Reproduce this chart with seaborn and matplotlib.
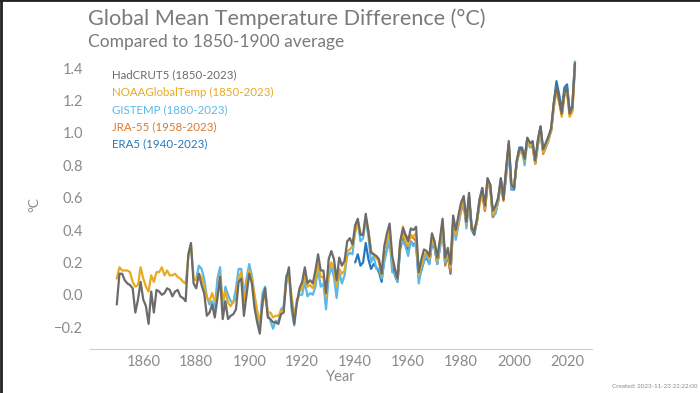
import numpy as np
import pandas as pd
import seaborn as sns
import matplotlib.pyplot as plt
from matplotlib.lines import Line2D

# %% data: annual anomalies vs 1850-1900 (deg C)
hadcrut5 = [-0.06, 0.13, 0.13, 0.09, 0.07, 0.06, 0.04, -0.11, -0.03, 0.08,
            -0.03, -0.07, -0.18, 0.02, -0.11, 0.03, 0.02, 0.00, 0.01, 0.04,
            0.03, -0.01, 0.02, 0.03, -0.01, -0.02, -0.04, 0.25, 0.32, 0.07,
            0.04, 0.13, 0.06, 0.01, -0.13, -0.11, -0.06, -0.14, -0.02, 0.11,
            -0.15, -0.04, -0.15, -0.13, -0.12, -0.09, 0.08, 0.10, -0.13, 0.00,
            0.13, 0.07, -0.08, -0.17, -0.24, -0.05, 0.04, -0.14, -0.15, -0.17,
            -0.17, -0.18, -0.12, -0.11, 0.10, 0.17, -0.06, -0.18, -0.05, 0.04,
            0.08, 0.17, 0.07, 0.09, 0.07, 0.15, 0.25, 0.15, 0.15, 0.01,
            0.22, 0.27, 0.22, 0.09, 0.23, 0.18, 0.21, 0.33, 0.35, 0.31,
            0.43, 0.47, 0.37, 0.37, 0.50, 0.39, 0.26, 0.25, 0.24, 0.22,
            0.13, 0.30, 0.38, 0.44, 0.24, 0.16, 0.10, 0.33, 0.41, 0.37,
            0.33, 0.41, 0.40, 0.42, 0.14, 0.22, 0.28, 0.27, 0.24, 0.38,
            0.33, 0.23, 0.34, 0.47, 0.23, 0.29, 0.19, 0.49, 0.40, 0.49,
            0.57, 0.61, 0.45, 0.63, 0.41, 0.39, 0.47, 0.59, 0.66, 0.55,
            0.72, 0.68, 0.52, 0.55, 0.60, 0.72, 0.59, 0.78, 0.95, 0.68,
            0.66, 0.83, 0.90, 0.90, 0.84, 0.97, 0.94, 0.94, 0.83, 0.96,
            1.04, 0.90, 0.94, 0.98, 1.03, 1.19, 1.29, 1.21, 1.12, 1.25,
            1.28, 1.12, 1.16, 1.43]

noaa = [0.10, 0.17, 0.15, 0.15, 0.15, 0.14, 0.08, 0.05, 0.06, 0.17,
        0.10, 0.05, 0.02, 0.12, 0.08, 0.14, 0.14, 0.17, 0.12, 0.15,
        0.12, 0.12, 0.13, 0.11, 0.10, 0.08, 0.07, 0.23, 0.31, 0.10,
        0.09, 0.13, 0.11, 0.05, -0.02, -0.04, 0.01, -0.04, 0.00, 0.12,
        -0.04, 0.02, -0.05, -0.07, -0.04, -0.03, 0.10, 0.14, -0.04, 0.06,
        0.15, 0.10, 0.00, -0.10, -0.17, -0.07, 0.02, -0.11, -0.11, -0.14,
        -0.13, -0.13, -0.10, -0.09, 0.07, 0.11, -0.01, -0.12, -0.05, 0.02,
        0.04, 0.12, 0.05, 0.06, 0.04, 0.09, 0.19, 0.11, 0.11, -0.01,
        0.16, 0.20, 0.16, 0.05, 0.16, 0.13, 0.15, 0.27, 0.28, 0.30,
        0.38, 0.45, 0.38, 0.37, 0.47, 0.40, 0.27, 0.25, 0.23, 0.20,
        0.12, 0.28, 0.33, 0.39, 0.21, 0.16, 0.10, 0.31, 0.38, 0.33,
        0.30, 0.37, 0.36, 0.38, 0.12, 0.18, 0.25, 0.26, 0.22, 0.35,
        0.31, 0.21, 0.33, 0.45, 0.22, 0.25, 0.17, 0.45, 0.37, 0.45,
        0.54, 0.58, 0.44, 0.60, 0.40, 0.39, 0.45, 0.56, 0.63, 0.53,
        0.69, 0.66, 0.50, 0.53, 0.59, 0.70, 0.59, 0.78, 0.93, 0.68,
        0.67, 0.82, 0.88, 0.88, 0.83, 0.96, 0.92, 0.93, 0.81, 0.94,
        1.02, 0.88, 0.92, 0.96, 1.02, 1.16, 1.26, 1.19, 1.10, 1.23,
        1.25, 1.10, 1.13, 1.40]

gistemp = [0.10, 0.18, 0.16, 0.10, -0.01, -0.06, -0.04, -0.09, 0.10, 0.17,
           -0.08, 0.05, 0.00, -0.04, -0.05, 0.04, 0.16, 0.16, 0.00, 0.10,
           0.19, 0.12, -0.01, -0.10, -0.20, 0.01, 0.05, -0.12, -0.16, -0.21,
           -0.16, -0.17, -0.09, -0.07, 0.12, 0.13, -0.09, -0.19, -0.03, 0.00,
           0.00, 0.08, -0.01, 0.01, 0.00, 0.05, 0.16, 0.05, 0.07, -0.09,
           0.11, 0.17, 0.11, -0.02, 0.14, 0.07, 0.12, 0.24, 0.26, 0.25,
           0.40, 0.45, 0.33, 0.35, 0.47, 0.36, 0.20, 0.24, 0.16, 0.16,
           0.10, 0.20, 0.28, 0.35, 0.14, 0.13, 0.08, 0.32, 0.33, 0.30,
           0.24, 0.33, 0.30, 0.32, 0.07, 0.16, 0.21, 0.25, 0.19, 0.32,
           0.30, 0.19, 0.28, 0.43, 0.20, 0.26, 0.17, 0.45, 0.34, 0.43,
           0.53, 0.59, 0.41, 0.58, 0.43, 0.39, 0.45, 0.59, 0.66, 0.54,
           0.72, 0.67, 0.49, 0.50, 0.58, 0.72, 0.60, 0.73, 0.88, 0.65,
           0.66, 0.81, 0.90, 0.89, 0.80, 0.95, 0.91, 0.93, 0.81, 0.92,
           0.99, 0.88, 0.91, 0.95, 1.02, 1.17, 1.28, 1.19, 1.12, 1.25,
           1.28, 1.12, 1.16, 1.44]

jra55 = [0.42, 0.37, 0.35, 0.36, 0.35, 0.33, 0.12, 0.17, 0.24, 0.25,
         0.22, 0.33, 0.30, 0.20, 0.30, 0.42, 0.18, 0.24, 0.14, 0.42,
         0.36, 0.44, 0.52, 0.55, 0.43, 0.60, 0.40, 0.40, 0.46, 0.57,
         0.62, 0.52, 0.68, 0.66, 0.48, 0.51, 0.58, 0.69, 0.58, 0.74,
         0.92, 0.66, 0.66, 0.82, 0.88, 0.88, 0.83, 0.95, 0.92, 0.91,
         0.81, 0.93, 1.02, 0.87, 0.91, 0.97, 1.01, 1.16, 1.28, 1.20,
         1.11, 1.24, 1.27, 1.11, 1.14, 1.42]

era5 = [0.20, 0.25, 0.18, 0.20, 0.32, 0.22, 0.16, 0.19, 0.17, 0.14,
        0.08, 0.23, 0.28, 0.35, 0.18, 0.12, 0.08, 0.28, 0.36, 0.32,
        0.28, 0.33, 0.31, 0.32, 0.10, 0.15, 0.21, 0.23, 0.19, 0.32,
        0.29, 0.19, 0.30, 0.43, 0.19, 0.25, 0.13, 0.44, 0.37, 0.47,
        0.55, 0.59, 0.44, 0.61, 0.40, 0.37, 0.46, 0.59, 0.64, 0.52,
        0.70, 0.68, 0.48, 0.51, 0.58, 0.71, 0.60, 0.76, 0.93, 0.65,
        0.65, 0.82, 0.91, 0.91, 0.84, 0.97, 0.93, 0.95, 0.81, 0.95,
        1.04, 0.88, 0.92, 0.97, 1.02, 1.18, 1.32, 1.24, 1.14, 1.28,
        1.30, 1.13, 1.17, 1.44]

series = {
    'HadCRUT5 (1850-2023)': (1850, hadcrut5),
    'NOAAGlobalTemp (1850-2023)': (1850, noaa),
    'GISTEMP (1880-2023)': (1880, gistemp),
    'JRA-55 (1958-2023)': (1958, jra55),
    'ERA5 (1940-2023)': (1940, era5),
}
colors = {
    'HadCRUT5 (1850-2023)': '#6b6b6b',
    'NOAAGlobalTemp (1850-2023)': '#e8aa1e',
    'GISTEMP (1880-2023)': '#5db7e8',
    'JRA-55 (1958-2023)': '#d97a2e',
    'ERA5 (1940-2023)': '#2678b8',
}
legend_order = list(series.keys())
draw_order = ['ERA5 (1940-2023)', 'JRA-55 (1958-2023)', 'GISTEMP (1880-2023)',
              'NOAAGlobalTemp (1850-2023)', 'HadCRUT5 (1850-2023)']

# %% tidy
df = pd.concat([
    pd.DataFrame({'Year': np.arange(start, start + len(vals)), 'anom': vals, 'dataset': name})
    for name, (start, vals) in series.items()
], ignore_index=True)

# %% plot
sns.set_style('white')
plt.rcParams['font.family'] = ['Lato', 'DejaVu Sans']
txt_grey = '#8a8a8a'

fig = plt.figure(figsize=(7, 3.93), dpi=100)
ax = fig.add_axes([0.129, 0.112, 0.717, 0.735])

sns.lineplot(data=df, x='Year', y='anom', hue='dataset', hue_order=draw_order,
             palette=colors, linewidth=1.6, legend=False, ax=ax)

ax.set_xlim(1840, 2029.5)
ax.set_ylim(-0.335, 1.45)
yt = np.round(np.arange(-0.2, 1.41, 0.2), 1)
ax.set_xticks(np.arange(1860, 2021, 20))
ax.set_yticks(yt)
ax.set_yticklabels([f'{v:.1f}'.replace('-', '\u2212') for v in yt])
sns.despine(ax=ax, left=True)
ax.spines['bottom'].set_color('#cfcfcf')
ax.tick_params(axis='x', direction='in', length=4, color='#cfcfcf', labelsize=10.5, labelcolor=txt_grey, pad=4)
ax.tick_params(axis='y', length=0, labelsize=10.5, labelcolor=txt_grey, pad=5)
ax.set_xlabel('Year', fontsize=10.5, color=txt_grey, labelpad=1)
ax.set_ylabel('°C', fontsize=10, color=txt_grey, labelpad=10)

# coloured legend labels
for i, name in enumerate(legend_order):
    fig.text(112 / 700, 1 - (75 + 17.2 * i) / 393, name, color=colors[name],
             fontsize=8.3, va='center', ha='left')

fig.text(88 / 700, 1 - 19 / 393, 'Global Mean Temperature Difference (°C)',
         fontsize=15.6, color='#7a7a7a', va='center', ha='left')
fig.text(88 / 700, 1 - 42 / 393, 'Compared to 1850-1900 average',
         fontsize=12.5, color='#7a7a7a', va='center', ha='left')
fig.text(697 / 700, 1 - 386 / 393, 'Created: 2023-11-23 22:22:00',
         fontsize=4.5, color='#8a8a8a', va='center', ha='right')

# screenshot frame (top/left edge)
fig.add_artist(Line2D([0, 1], [0.999, 0.999], color='#222222', linewidth=2, transform=fig.transFigure))
fig.add_artist(Line2D([0.001, 0.001], [0, 1], color='#222222', linewidth=2, transform=fig.transFigure))

fig.savefig('out.png', dpi=100)
